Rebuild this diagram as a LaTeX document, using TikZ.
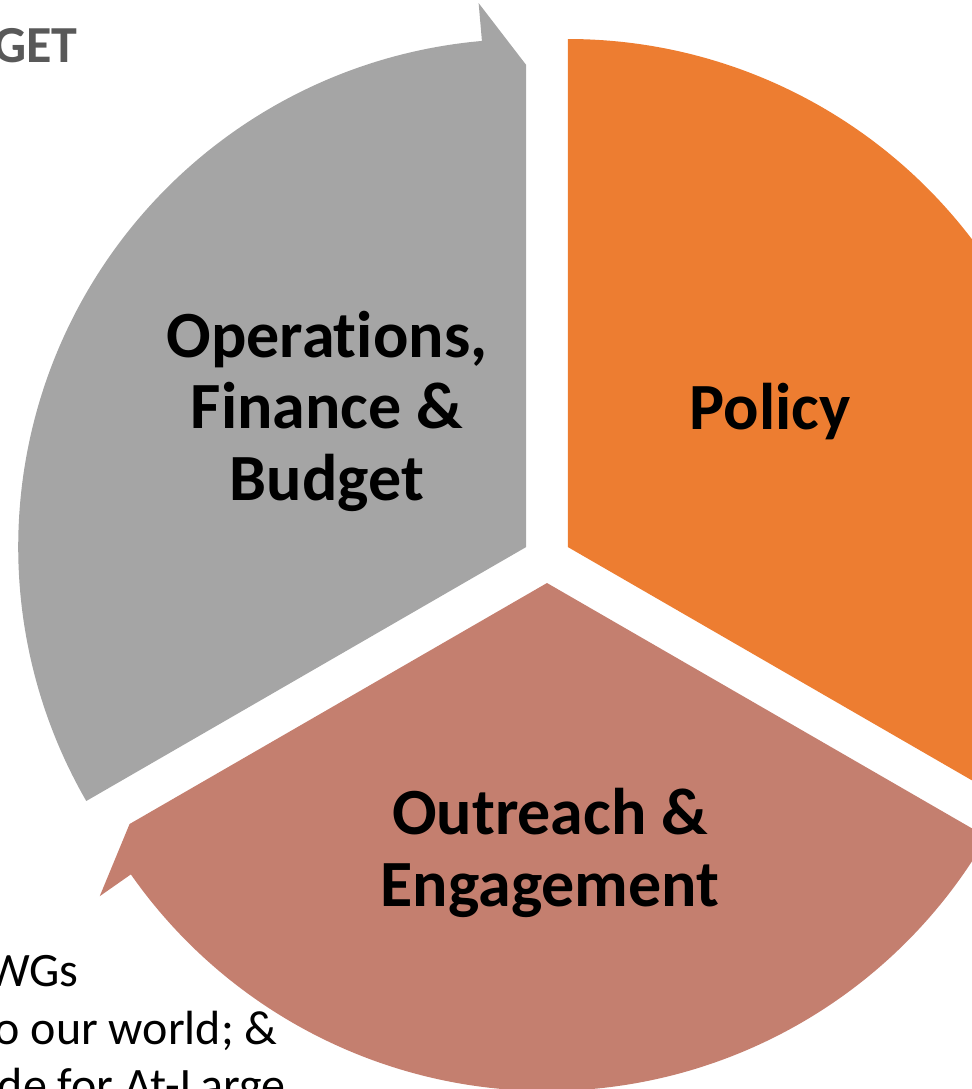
\documentclass[tikz,border=0pt]{standalone}
\usepackage{fontspec}
\setmainfont{Carlito}[Ligatures=NoCommon]
\usepackage{tikz}
\usetikzlibrary{calc}
\definecolor{opsgray}{HTML}{A5A5A5}
\definecolor{policyorange}{HTML}{ED7D31}
\definecolor{outreachred}{HTML}{C47F6F}
\definecolor{titlegray}{HTML}{595959}
\def\outerrad{508}
\tikzset{
segment/.style={fill=#1, draw=none},
seglabel/.style={align=center, font=\fontsize{33}{35.75}\selectfont\bfseries, text=black, inner sep=0pt},
sidetext/.style={anchor=base east, inner sep=0pt, font=\fontsize{24}{28}\selectfont},
}
% one wedge of the cycle: apex, start angle, barb angle, colour
\newcommand{\cyclewedge}[4]{%
	\fill[segment=#4] ($(#1)+(#2:\outerrad)$) arc[start angle=#2, end angle=#3+5, radius=254pt]
		-- ($(#1)+(#3+5:546)$) -- ($(#1)+(#3:482)$) -- (#1) -- cycle;
}
\begin{document}
\begin{tikzpicture}[x=0.5pt, y=0.5pt]
\useasboundingbox (0,0) rectangle (972,-1089);
%Place the centre and the apexes
\coordinate (c) at (547,-559);
\coordinate (ops) at ($(c)+(150:24)$);
\coordinate (pol) at ($(c)+(30:24)$);
\coordinate (out) at ($(c)+(270:24)$);

%
\cyclewedge{ops}{210}{90}{opsgray}
\cyclewedge{pol}{90}{-30}{policyorange}
\cyclewedge{out}{330}{210}{outreachred}

%
\node[seglabel] (opslabel) at (327,-411) {Operations,\\Finance \&\\Budget};
\node[seglabel] (pollabel) at (770,-412) {Policy};
\node[seglabel] (outlabel) at (550,-853) {Outreach \&\\Engagement};

%
\node[sidetext, font=\fontsize{26}{30}\selectfont\bfseries, text=titlegray] (budget) at (78,-62) {GET};
\node[sidetext] (wgs) at (79,-986) {WGs};
\node[sidetext] (world) at (278,-1044) {o our world; \&};
\node[sidetext] (atlarge) at (286,-1101) {de for At-Large};
\end{tikzpicture}
\end{document}
